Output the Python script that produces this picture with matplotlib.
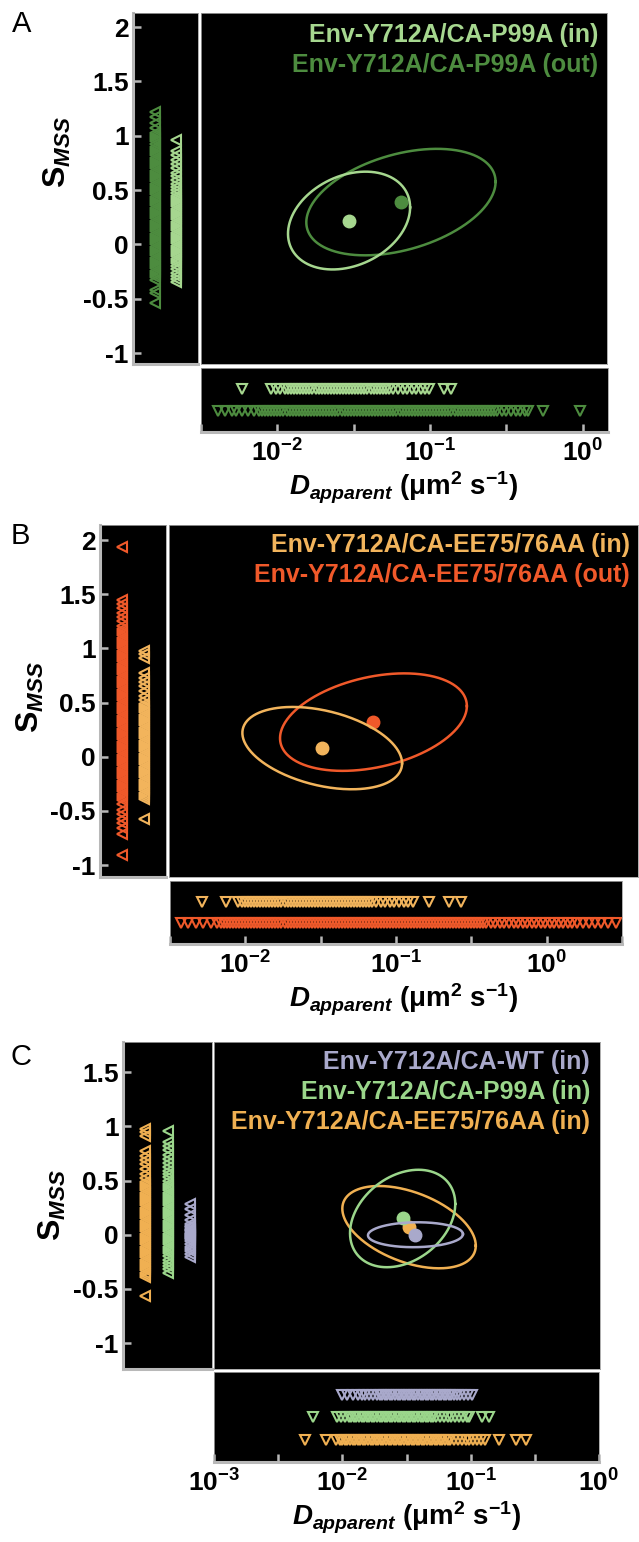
import numpy as np
import matplotlib
matplotlib.use("Agg")
import matplotlib.pyplot as plt
from matplotlib.ticker import FormatStrFormatter, NullLocator

W, H = 639, 1542

plt.rcParams["font.family"] = ["Liberation Sans", "DejaVu Sans"]
plt.rcParams["font.weight"] = "bold"
plt.rcParams["axes.unicode_minus"] = False
plt.rcParams["mathtext.fontset"] = "custom"
plt.rcParams["mathtext.rm"] = "Liberation Sans:bold"
plt.rcParams["mathtext.it"] = "Liberation Sans:italic:bold"
plt.rcParams["mathtext.bf"] = "Liberation Sans:bold"
plt.rcParams["mathtext.default"] = "rm"

P99A_IN_S = [0.96, 0.86, 0.82, 0.78, 0.74, 0.70, 0.66, 0.63, 0.59, 0.56, 0.53, 0.50,
             0.47, 0.45, 0.43, 0.41, 0.39, 0.37, 0.35, 0.33, 0.31, 0.29, 0.27, 0.25,
             0.23, 0.21, 0.19, 0.17, 0.15, 0.13, 0.11, 0.09, 0.07, 0.05, 0.03, 0.01,
             -0.01, -0.03, -0.05, -0.07, -0.09, -0.11, -0.13, -0.15, -0.17, -0.20,
             -0.23, -0.26, -0.29, -0.32, -0.35]
P99A_IN_LOGD = [-2.23, -2.04, -2.01, -1.98, -1.95, -1.93, -1.91, -1.89, -1.87, -1.85,
                -1.83, -1.81, -1.79, -1.77, -1.75, -1.73, -1.71, -1.69, -1.67, -1.65,
                -1.63, -1.61, -1.59, -1.57, -1.55, -1.53, -1.51, -1.49, -1.47, -1.45,
                -1.43, -1.41, -1.39, -1.37, -1.35, -1.33, -1.31, -1.29, -1.27, -1.24,
                -1.21, -1.18, -1.15, -1.12, -1.09, -1.06, -1.03, -1.01, -0.91, -0.86]

P99A_OUT_S = [1.22, 1.17, 1.12, 1.07, 1.03, 1.01, 0.99, 0.97, 0.95, 0.92, 0.90, 0.88,
              0.86, 0.84, 0.82, 0.80, 0.78, 0.76, 0.74, 0.72, 0.70, 0.68, 0.66, 0.64,
              0.62, 0.60, 0.58, 0.56, 0.54, 0.52, 0.50, 0.48, 0.46, 0.44, 0.42, 0.40,
              0.38, 0.36, 0.34, 0.32, 0.30, 0.28, 0.26, 0.24, 0.22, 0.20, 0.18, 0.16,
              0.14, 0.12, 0.10, 0.08, 0.06, 0.04, 0.02, 0.00, -0.02, -0.04, -0.06,
              -0.08, -0.10, -0.12, -0.14, -0.16, -0.18, -0.20, -0.22, -0.24, -0.26,
              -0.28, -0.30, -0.33, -0.42, -0.45, -0.54]
P99A_OUT_LOGD = [-2.39, -2.34, -2.30, -2.27, -2.23, -2.19, -2.15, -2.12, -2.10, -2.08,
                 -2.06, -2.04, -2.02, -2.00, -1.98, -1.96, -1.94, -1.92, -1.90, -1.88,
                 -1.86, -1.84, -1.82, -1.80, -1.78, -1.76, -1.74, -1.72, -1.70, -1.68,
                 -1.66, -1.64, -1.62, -1.60, -1.58, -1.56, -1.54, -1.52, -1.50, -1.48,
                 -1.46, -1.44, -1.42, -1.40, -1.38, -1.36, -1.34, -1.32, -1.30, -1.28,
                 -1.26, -1.24, -1.22, -1.20, -1.18, -1.16, -1.14, -1.12, -1.10, -1.08,
                 -1.06, -1.04, -1.02, -1.00, -0.98, -0.96, -0.94, -0.92, -0.90, -0.88,
                 -0.86, -0.84, -0.82, -0.80, -0.78, -0.76, -0.74, -0.72, -0.70, -0.68,
                 -0.66, -0.64, -0.62, -0.60, -0.58, -0.56, -0.53, -0.50, -0.47, -0.44,
                 -0.41, -0.38, -0.36, -0.26, -0.02]

EE_IN_S = [0.98, 0.95, 0.91, 0.77, 0.73, 0.69, 0.65, 0.61, 0.56, 0.52, 0.49, 0.47,
           0.45, 0.43, 0.41, 0.39, 0.37, 0.35, 0.33, 0.31, 0.29, 0.27, 0.25, 0.23,
           0.21, 0.19, 0.17, 0.15, 0.13, 0.11, 0.09, 0.07, 0.05, 0.03, 0.01, -0.01,
           -0.03, -0.05, -0.07, -0.09, -0.11, -0.13, -0.15, -0.17, -0.19, -0.21,
           -0.23, -0.25, -0.27, -0.29, -0.31, -0.33, -0.35, -0.37, -0.39, -0.57]
EE_IN_LOGD = [-2.29, -2.13, -2.05, -2.02, -2.00, -1.98, -1.96, -1.94, -1.92, -1.90,
              -1.88, -1.86, -1.84, -1.82, -1.80, -1.78, -1.76, -1.74, -1.72, -1.70,
              -1.68, -1.66, -1.64, -1.62, -1.60, -1.58, -1.56, -1.54, -1.52, -1.50,
              -1.48, -1.46, -1.44, -1.42, -1.40, -1.38, -1.36, -1.34, -1.32, -1.30,
              -1.28, -1.26, -1.24, -1.22, -1.20, -1.18, -1.16, -1.13, -1.10, -1.07,
              -1.04, -1.01, -0.98, -0.95, -0.92, -0.89, -0.78, -0.65, -0.57]

EE_OUT_S = [1.94, 1.45, 1.41, 1.37, 1.33, 1.29, 1.25, 1.21, 1.18, 1.16, 1.14, 1.12,
            1.10, 1.08, 1.06, 1.04, 1.02, 1.00, 0.98, 0.96, 0.94, 0.92, 0.90, 0.88,
            0.86, 0.84, 0.82, 0.80, 0.78, 0.76, 0.74, 0.72, 0.70, 0.68, 0.66, 0.64,
            0.62, 0.60, 0.58, 0.56, 0.54, 0.52, 0.50, 0.48, 0.46, 0.44, 0.42, 0.40,
            0.38, 0.36, 0.34, 0.32, 0.30, 0.28, 0.26, 0.24, 0.22, 0.20, 0.18, 0.16,
            0.14, 0.12, 0.10, 0.08, 0.06, 0.04, 0.02, 0.00, -0.02, -0.04, -0.06,
            -0.08, -0.10, -0.12, -0.14, -0.16, -0.18, -0.20, -0.22, -0.24, -0.26,
            -0.28, -0.30, -0.32, -0.34, -0.36, -0.38, -0.40, -0.44, -0.49, -0.53,
            -0.57, -0.61, -0.66, -0.71, -0.91]
EE_OUT_LOGD = [-2.43, -2.38, -2.33, -2.28, -2.23, -2.19, -2.16, -2.14, -2.12, -2.10,
               -2.08, -2.06, -2.04, -2.02, -2.00, -1.98, -1.96, -1.94, -1.92, -1.90,
               -1.88, -1.86, -1.84, -1.82, -1.80, -1.78, -1.76, -1.74, -1.72, -1.70,
               -1.68, -1.66, -1.64, -1.62, -1.60, -1.58, -1.56, -1.54, -1.52, -1.50,
               -1.48, -1.46, -1.44, -1.42, -1.40, -1.38, -1.36, -1.34, -1.32, -1.30,
               -1.28, -1.26, -1.24, -1.22, -1.20, -1.18, -1.16, -1.14, -1.12, -1.10,
               -1.08, -1.06, -1.04, -1.02, -1.00, -0.98, -0.96, -0.94, -0.92, -0.90,
               -0.88, -0.86, -0.84, -0.82, -0.80, -0.78, -0.76, -0.74, -0.72, -0.70,
               -0.68, -0.66, -0.64, -0.62, -0.60, -0.58, -0.56, -0.54, -0.52, -0.50,
               -0.48, -0.46, -0.44, -0.42, -0.40, -0.37, -0.34, -0.31, -0.28, -0.25,
               -0.22, -0.19, -0.16, -0.13, -0.10, -0.07, -0.04, -0.01, 0.02, 0.05,
               0.08, 0.11, 0.14, 0.17, 0.20, 0.24, 0.28, 0.32, 0.36, 0.41, 0.46]

WT_IN_S = [0.28, 0.24, 0.18, 0.14, 0.10, 0.08, 0.07, 0.05, 0.04, 0.03, 0.02, 0.01,
           0.00, -0.01, -0.02, -0.03, -0.04, -0.06, -0.09, -0.11, -0.13, -0.15,
           -0.18, -0.21]
WT_IN_LOGD = [-2.00, -1.96, -1.92, -1.88, -1.85, -1.82, -1.79, -1.76, -1.73, -1.71,
              -1.69, -1.67, -1.65, -1.63, -1.61, -1.59, -1.57, -1.55, -1.53, -1.51,
              -1.49, -1.47, -1.45, -1.43, -1.41, -1.39, -1.37, -1.35, -1.33, -1.31,
              -1.29, -1.27, -1.25, -1.23, -1.21, -1.19, -1.17, -1.15, -1.13, -1.11,
              -1.08, -1.05, -1.02, -0.99]

# ---- ellipse summaries per panel: centre log10 D, centre S, half-widths, tilt ----
A_NAMES = ["Env-Y712A/CA-P99A (out)", "Env-Y712A/CA-P99A (in)"]
A_MEAN_LOGD = [-1.19, -1.53]
A_MEAN_S = [0.39, 0.22]
A_HALF_LOGD = [0.62, 0.40]
A_HALF_S = [0.49, 0.45]
A_TILT = [0.38, 0.27]

B_NAMES = ["Env-Y712A/CA-EE75/76AA (out)", "Env-Y712A/CA-EE75/76AA (in)"]
B_MEAN_LOGD = [-1.15, -1.49]
B_MEAN_S = [0.32, 0.08]
B_HALF_LOGD = [0.62, 0.53]
B_HALF_S = [0.45, 0.38]
B_TILT = [0.33, -0.37]

C_NAMES = ["Env-Y712A/CA-EE75/76AA (in)", "Env-Y712A/CA-P99A (in)", "Env-Y712A/CA-WT (in)"]
C_MEAN_LOGD = [-1.48, -1.53, -1.43]
C_MEAN_S = [0.07, 0.15, 0.00]
C_HALF_LOGD = [0.52, 0.41, 0.37]
C_HALF_S = [0.38, 0.45, 0.115]
C_TILT = [-0.45, 0.30, 0.05]

GRAY = "#b8b8b8"
fig = plt.figure(figsize=(W / 100, H / 100), dpi=100)


def box(x0, y0, x1, y1):
    return [x0 / W, 1 - y1 / H, (x1 - x0) / W, (y1 - y0) / H]


def fig_xy(x, y):
    return x / W, 1 - y / H


t = np.linspace(0, 2 * np.pi, 300)


def add_panel(p):
    ax_l = fig.add_axes(box(*p["left"]))
    ax_m = fig.add_axes(box(*p["main"]))
    ax_b = fig.add_axes(box(*p["bottom"]))
    n = len(p["names"])

    for i in range(n):
        col = p["colors"][i]
        s = np.asarray(p["s"][i])
        logd = np.asarray(p["logd"][i])
        ax_l.plot(np.full(s.size, i + 1), s, ls="none", marker="<", ms=7.5,
                  mfc="none", mec=col, mew=1.5)
        ax_b.plot(10 ** logd, np.full(logd.size, i + 1), ls="none", marker="v",
                  ms=7.5, mfc="none", mec=col, mew=1.5)
        cx, cy = p["mean_logd"][i], p["mean_s"][i]
        rx, ry = p["half_logd"][i], p["half_s"][i]
        phi = np.arccos(p["tilt"][i])
        ax_m.plot(10 ** (cx + rx * np.cos(t)), cy + ry * np.cos(t - phi),
                  color=col, lw=1.8)
        ax_m.plot(10 ** cx, cy, "o", ms=9, color=col)

    for ax in (ax_l, ax_m, ax_b):
        ax.set_facecolor("black")
        for sp in ax.spines.values():
            sp.set_color("#a0a0a0")
            sp.set_linewidth(0.6)

    # left strip: S_MSS axis
    ax_l.set_xlim(0, n + 1)
    ax_l.set_ylim(*p["ylim"])
    ax_l.set_xticks([])
    ax_l.set_yticks(p["yticks"])
    ax_l.yaxis.set_major_formatter(FormatStrFormatter("%g"))
    for side in ("left", "bottom"):
        ax_l.spines[side].set_color(GRAY)
        ax_l.spines[side].set_linewidth(2.2)
    ax_l.tick_params(axis="y", direction="in", length=6, width=1.8, color=GRAY,
                     labelsize=19, pad=3)

    # main panel
    ax_m.set_xscale("log")
    ax_m.set_xlim(*p["xlim_main"])
    ax_m.set_ylim(*p["ylim"])
    ax_m.set_xticks([])
    ax_m.set_yticks([])
    ax_m.xaxis.set_minor_locator(NullLocator())

    # bottom strip: D axis
    ax_b.set_xscale("log")
    ax_b.set_xlim(*p["xlim_bottom"])
    ax_b.set_ylim(0, n + 1)
    ax_b.set_yticks([])
    exps = p["xtick_exp"]
    ax_b.set_xticks([10 ** e for e in exps])
    ax_b.set_xticklabels([r"$10^{%d}$" % e if float(e).is_integer() else ""
                          for e in exps])
    ax_b.xaxis.set_minor_locator(NullLocator())
    ax_b.spines["bottom"].set_color(GRAY)
    ax_b.spines["bottom"].set_linewidth(2.2)
    ax_b.tick_params(axis="x", direction="in", length=6, width=1.8, color=GRAY,
                     labelsize=19, pad=5)

    # legend as coloured text, top entry first
    rx_, ry_ = p["legend_xy"]
    for k, i in enumerate(reversed(range(n))):
        fig.text(*fig_xy(rx_, ry_ + 30 * k), p["names"][i], ha="right", va="center",
                 color=p["colors"][i], fontsize=18, fontweight="bold")

    fig.text(*fig_xy(*p["ylabel_xy"]), r"$\mathrm{S}_{\mathit{MSS}}$", rotation=90,
             ha="center", va="center", fontsize=23)
    fig.text(*fig_xy(*p["xlabel_xy"]), r"$\mathit{D}_{\mathit{apparent}}$ (μm$^2$ s$^{-1}$)",
             ha="center", va="baseline", fontsize=20, fontweight="bold")
    fig.text(*fig_xy(*p["letter_xy"]), p["letter"], ha="center", va="center",
             fontsize=21, fontweight="normal")


add_panel(dict(
    letter="A", names=A_NAMES, colors=["#4d8c3f", "#a6d78f"],
    s=[P99A_OUT_S, P99A_IN_S], logd=[P99A_OUT_LOGD, P99A_IN_LOGD],
    mean_logd=A_MEAN_LOGD, mean_s=A_MEAN_S, half_logd=A_HALF_LOGD,
    half_s=A_HALF_S, tilt=A_TILT,
    left=(133, 13, 198, 364), main=(201, 13, 607, 364), bottom=(201, 368, 608, 432),
    xlim_main=(10 ** -2.5, 10 ** 0.16), xlim_bottom=(10 ** -2.5, 10 ** 0.165),
    ylim=(-1.1, 2.13), yticks=[-1, -0.5, 0, 0.5, 1, 1.5, 2],
    xtick_exp=[-2.5, -2, -1.5, -1, -0.5, 0],
    legend_xy=(598, 35), ylabel_xy=(57, 152), xlabel_xy=(404, 496), letter_xy=(22, 24),
))

add_panel(dict(
    letter="B", names=B_NAMES, colors=["#f0592a", "#f2b45c"],
    s=[EE_OUT_S, EE_IN_S], logd=[EE_OUT_LOGD, EE_IN_LOGD],
    mean_logd=B_MEAN_LOGD, mean_s=B_MEAN_S, half_logd=B_HALF_LOGD,
    half_s=B_HALF_S, tilt=B_TILT,
    left=(100, 525, 166, 877), main=(169, 525, 638, 877), bottom=(170, 881, 622, 944),
    xlim_main=(10 ** -2.507, 10 ** 0.606), xlim_bottom=(10 ** -2.5, 10 ** 0.5),
    ylim=(-1.11, 2.14), yticks=[-1, -0.5, 0, 0.5, 1, 1.5, 2],
    xtick_exp=[-2.5, -2, -1.5, -1, -0.5, 0, 0.5],
    legend_xy=(630, 545), ylabel_xy=(30, 697), xlabel_xy=(404, 1008), letter_xy=(20, 536),
))

add_panel(dict(
    letter="C", names=C_NAMES, colors=["#f0b052", "#9bd68b", "#a9a9cb"],
    s=[EE_IN_S, P99A_IN_S, WT_IN_S], logd=[EE_IN_LOGD, P99A_IN_LOGD, WT_IN_LOGD],
    mean_logd=C_MEAN_LOGD, mean_s=C_MEAN_S, half_logd=C_HALF_LOGD,
    half_s=C_HALF_S, tilt=C_TILT,
    left=(123, 1042, 212, 1369), main=(214, 1042, 600, 1369), bottom=(214, 1372, 599, 1462),
    xlim_main=(1e-3, 10 ** 0.008), xlim_bottom=(1e-3, 1),
    ylim=(-1.24, 1.78), yticks=[-1, -0.5, 0, 0.5, 1, 1.5],
    xtick_exp=[-3, -2.5, -2, -1.5, -1, -0.5, 0],
    legend_xy=(590, 1062), ylabel_xy=(52, 1205), xlabel_xy=(407, 1526), letter_xy=(21, 1057),
))

fig.savefig("out.png", dpi=100, facecolor="white")
